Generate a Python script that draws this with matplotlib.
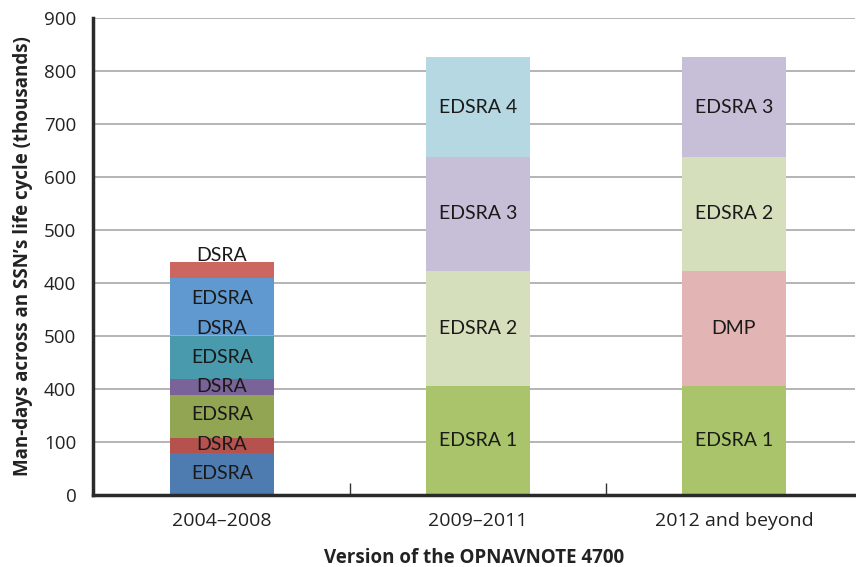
import matplotlib
matplotlib.use("Agg")
import matplotlib.pyplot as plt

categories = ["2004\u20132008", "2009\u20132011", "2012 and beyond"]

# stacked segments per category: (label, value, color)
seg_labels = [
    ["EDSRA", "DSRA", "EDSRA", "DSRA", "EDSRA", "DSRA", "EDSRA", "DSRA"],
    ["EDSRA 1", "EDSRA 2", "EDSRA 3", "EDSRA 4"],
    ["EDSRA 1", "DMP", "EDSRA 2", "EDSRA 3"],
]
seg_values = [
    [80, 28, 81, 30, 81, 2, 108, 30],
    [205, 218, 215, 188],
    [205, 218, 215, 188],
]
seg_colors = [
    ["#4E7CB0", "#B6524E", "#92A552", "#7A6398", "#4A9AAE", "#F2993A", "#6099D0", "#CC6660"],
    ["#A9C46A", "#D5DFBC", "#C7BFD7", "#B6D8E3"],
    ["#A9C46A", "#E2B5B4", "#D5DFBC", "#C7BFD7"],
]
# label y-positions for the first (crowded) stack
first_label_y = [40, 95, 152, 205, 260, 315, 370, 452]

ytick_vals = [0, 100, 200, 300, 400, 500, 600, 700, 800, 900]
ytick_text = ["0", "100", "400", "500", "400", "500", "600", "700", "800", "900"]

fig = plt.figure(figsize=(8.56, 5.67), dpi=100)
ax = fig.add_axes([93/856, 1-495/567, (855-93)/856, (495-18)/567])

bar_w = 0.405
for i, (labs, vals, cols) in enumerate(zip(seg_labels, seg_values, seg_colors)):
    bottom = 0
    for j, (lab, v, c) in enumerate(zip(labs, vals, cols)):
        ax.bar(i, v, width=bar_w, bottom=bottom, color=c, zorder=2, linewidth=0)
        if i == 0:
            ty = first_label_y[j]
        else:
            ty = bottom + v / 2
        ax.text(i, ty, lab, ha="center", va="center", fontsize=14,
                family="Lato", color="#1a1a1a", zorder=3)
        bottom += v

ax.set_xlim(-0.504, 2.473)
ax.set_ylim(0, 900)
ax.set_yticks(ytick_vals)
ax.set_yticklabels(ytick_text, fontsize=13.5, family="Open Sans", color="#222222")
ax.yaxis.grid(True, color="#A8A8A8", linewidth=1.2, zorder=0)
ax.set_axisbelow(True)
ax.tick_params(axis="y", length=0, pad=12)

ax.set_xticks([0, 1, 2])
ax.set_xticklabels(categories, fontsize=14, family="Open Sans", color="#222222")
ax.tick_params(axis="x", length=0, pad=12)
ax.set_xticks([0.5, 1.5], minor=True)
ax.tick_params(axis="x", which="minor", length=9, width=1, color="#333333", direction="in")

for s in ["top", "right"]:
    ax.spines[s].set_visible(False)
ax.spines["left"].set_linewidth(2.5)
ax.spines["bottom"].set_linewidth(2.5)
ax.spines["left"].set_color("#2a2a2a")
ax.spines["bottom"].set_color("#2a2a2a")

ax.set_ylabel("Man-days across an SSN\u2019s life cycle (thousands)", fontsize=13.5,
              fontweight="bold", family="Open Sans", color="#222222", labelpad=8)
ax.set_xlabel("Version of the OPNAVNOTE 4700", fontsize=13.5, fontweight="bold",
              family="Open Sans", color="#222222", labelpad=13)

fig.savefig("out.png", dpi=100)
